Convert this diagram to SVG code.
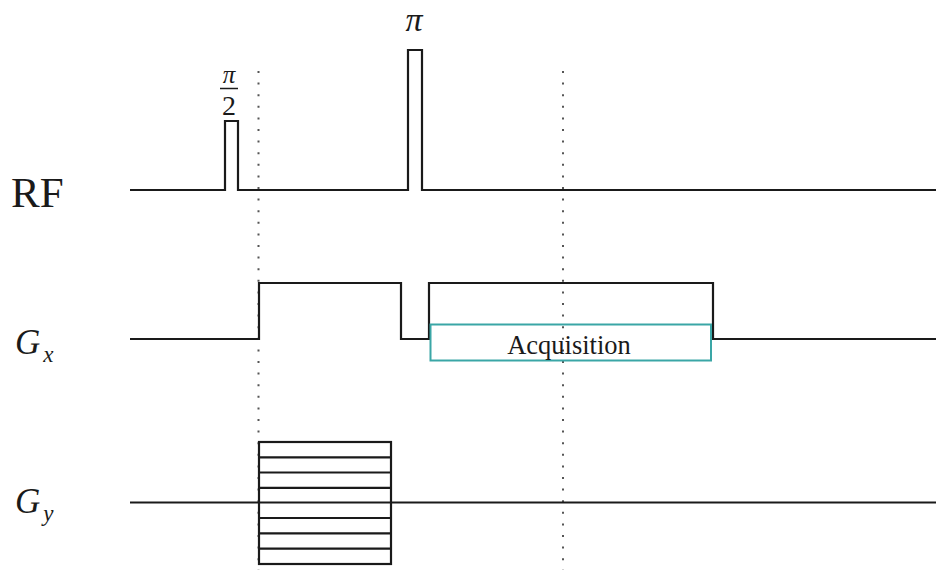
<svg xmlns="http://www.w3.org/2000/svg" width="936" height="570" viewBox="0 0 936 570">
<style>
.wave{fill:none;stroke:#1a1a1a;stroke-width:2.2;stroke-linejoin:miter}
.dot{fill:none;stroke:#555;stroke-width:2;stroke-dasharray:2 9.6}
.lbl{font-family:"Liberation Serif","DejaVu Serif",serif;fill:#1a1a1a}
.it{font-style:italic}
</style>
<rect width="936" height="570" fill="#fff"/>
<g id="guides">
<line class="dot" x1="258.5" y1="71" x2="258.5" y2="570"/>
<line class="dot" x1="563" y1="71" x2="563" y2="570"/>
</g>
<g id="rf">
<text class="lbl" x="11" y="207" font-size="43">RF</text>
<polyline class="wave" points="130,190 225,190 225,121 238,121 238,190 408,190 408,50 422,50 422,190 936,190"/>
<g id="rf-half-label">
<text class="lbl it" x="229" y="83" font-size="25" text-anchor="middle">π</text>
<line x1="220" y1="88.5" x2="238" y2="88.5" stroke="#1a1a1a" stroke-width="1.5"/>
<text class="lbl" x="229" y="115" font-size="28" text-anchor="middle">2</text>
</g>
<text id="rf-pi-label" class="lbl it" x="414" y="31" font-size="34" text-anchor="middle">π</text>
</g>
<g id="gx">
<text class="lbl it" x="15" y="354" font-size="35">G<tspan font-size="23" dy="8" dx="3">x</tspan></text>
<polyline class="wave" points="130,339 259,339 259,283 401,283 401,339 429,339 429,283 713,283 713,339 936,339"/>
</g>
<g id="acquisition">
<rect x="430.5" y="324.5" width="280.5" height="36" fill="none" stroke="#3aa6a6" stroke-width="2"/>
<text class="lbl" x="569" y="354" font-size="26.5" text-anchor="middle">Acquisition</text>
</g>
<g id="gy">
<text class="lbl it" x="15" y="513" font-size="35">G<tspan font-size="23" dy="8" dx="3">y</tspan></text>
<line class="wave" x1="130" y1="502.5" x2="936" y2="502.5"/>
<rect class="wave" x="259" y="442" width="132" height="122"/>
<path class="wave" d="M259,457.3H391M259,472.5H391M259,487.8H391M259,518H391M259,533.3H391M259,548.6H391"/>
</g>
</svg>
